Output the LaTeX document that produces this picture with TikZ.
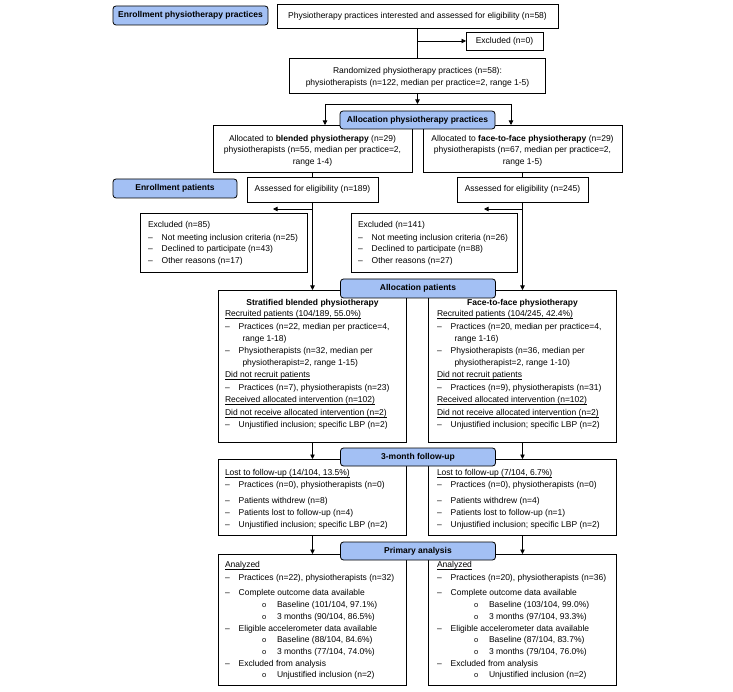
\documentclass[tikz,border=0pt]{standalone}
\usepackage{fontspec}
\setmainfont{Liberation Sans}
\usetikzlibrary{arrows.meta}
\definecolor{hdrblue}{RGB}{163,192,244}
\newcommand{\dashit}{\makebox[13.7pt][l]{–}}
\newcommand{\contit}{\hspace*{17.5pt}}
\newcommand{\obul}{\hspace*{37pt}\makebox[15pt][l]{\fontsize{7.5pt}{11.7pt}\selectfont o}}
\newcommand{\uln}[1]{\underline{\raisebox{0pt}[\height][0.3pt]{#1}}}
\begin{document}
\begin{tikzpicture}[x=1pt,y=-1pt,
  box/.style={draw, line width=0.8pt, inner sep=0pt, outer sep=0pt, fill=white, font=\fontsize{8.5pt}{11.5pt}\selectfont},
  hdr/.style={draw, line width=0.8pt, fill=hdrblue, rounded corners=3pt, inner sep=0pt, outer sep=0pt, font=\fontsize{8.5pt}{10pt}\selectfont\bfseries},
  txt/.style={inner sep=0pt, outer sep=0pt, align=left, anchor=north west, font=\fontsize{8.5pt}{11.7pt}\selectfont},
  ctxt/.style={inner sep=0pt, outer sep=0pt, align=center, anchor=north, font=\fontsize{8.5pt}{11.5pt}\selectfont},
  conn/.style={line width=0.8pt},
  arr/.style={line width=0.8pt, -{Triangle[length=4.5pt,width=4.5pt]}},
]
\fill[white] (0,0) rectangle (733,692);
\useasboundingbox (0,0) rectangle (733,692);

% ---------- boxes ----------
\node[box, minimum width=281pt, minimum height=24pt] (top) at (417.5,16) {Physiotherapy practices interested and assessed for eligibility (n=58)};
\node[box, minimum width=77pt, minimum height=18pt] (excl0) at (504.5,41) {Excluded (n=0)};
\node[box, minimum width=256pt, minimum height=35pt] (rand) at (417.5,75.5) {};
\node[ctxt] (randT) at (417.5,67.8) {Randomized physiotherapy practices (n=58):\\physiotherapists (n=122, median per practice=2, range 1-5)};

\node[box, minimum width=199pt, minimum height=47pt] (allocL) at (312.5,148.5) {};
\node[ctxt] (allocLT) at (312.5,135.1) {Allocated to \textbf{blended physiotherapy} (n=29)\\physiotherapists (n=55, median per practice=2,\\range 1-4)};
\node[box, minimum width=199pt, minimum height=47pt] (allocR) at (522.5,148.5) {};
\node[ctxt] (allocRT) at (522.5,135.1) {Allocated to \textbf{face-to-face physiotherapy} (n=29)\\physiotherapists (n=67, median per practice=2,\\range 1-5)};

\node[box, minimum width=131pt, minimum height=25pt] (assL) at (312.5,189.5) {Assessed for eligibility (n=189)};
\node[box, minimum width=131pt, minimum height=25pt] (assR) at (522.5,189.5) {Assessed for eligibility (n=245)};

\node[box, minimum width=167pt, minimum height=59pt] (exclL) at (223.5,242.5) {};
\node[txt] (exclLT) at (148,221.8) {Excluded (n=85)\\[0.4pt]
\dashit Not meeting inclusion criteria (n=25)\\
\dashit Declined to participate (n=43)\\
\dashit Other reasons (n=17)};
\node[box, minimum width=166pt, minimum height=59pt] (exclR) at (434,242.5) {};
\node[txt] (exclRT) at (358,221.8) {Excluded (n=141)\\[0.4pt]
\dashit Not meeting inclusion criteria (n=26)\\
\dashit Declined to participate (n=88)\\
\dashit Other reasons (n=27)};

% intervention boxes
\node[box, minimum width=188.4pt, minimum height=152pt] (blendL) at (312.5,366) {};
\node[inner sep=0pt, anchor=base, font=\fontsize{8.5pt}{11.7pt}\selectfont\bfseries] (blendLH) at (312.5,306) {Stratified blended physiotherapy};
\node[txt] (blendLT) at (225,310.8) {\uln{Recruited patients (104/189, 55.0\%)}\\[0.8pt]
\dashit Practices (n=22, median per practice=4,\\
\contit range 1-18)\\[0.8pt]
\dashit Physiotherapists (n=32, median per\\
\contit physiotherapist=2, range 1-15)\\[0.8pt]
\uln{Did not recruit patients}\\[0.8pt]
\dashit Practices (n=7), physiotherapists (n=23)\\[0.8pt]
\uln{Received allocated intervention (n=102)}\\[0.8pt]
\uln{Did not receive allocated intervention (n=2)}\\[0.8pt]
\dashit Unjustified inclusion; specific LBP (n=2)};

\node[box, minimum width=188.4pt, minimum height=152pt] (blendR) at (522.5,366) {};
\node[inner sep=0pt, anchor=base, font=\fontsize{8.5pt}{11.7pt}\selectfont\bfseries] (blendRH) at (522.5,306) {Face-to-face physiotherapy};
\node[txt] (blendRT) at (437,310.8) {\uln{Recruited patients (104/245, 42.4\%)}\\[0.8pt]
\dashit Practices (n=20, median per practice=4,\\
\contit range 1-16)\\[0.8pt]
\dashit Physiotherapists (n=36, median per\\
\contit physiotherapist=2, range 1-10)\\[0.8pt]
\uln{Did not recruit patients}\\[0.8pt]
\dashit Practices (n=9), physiotherapists (n=31)\\[0.8pt]
\uln{Received allocated intervention (n=102)}\\[0.8pt]
\uln{Did not receive allocated intervention (n=2)}\\[0.8pt]
\dashit Unjustified inclusion; specific LBP (n=2)};

% follow-up boxes
\node[box, minimum width=188.4pt, minimum height=76pt] (fuL) at (312.5,497) {};
\node[txt] (fuLT) at (225,469.8) {\uln{Lost to follow-up (14/104, 13.5\%)}\\
\dashit Practices (n=0), physiotherapists (n=0)\\[4.3pt]
\dashit Patients withdrew (n=8)\\[0.3pt]
\dashit Patients lost to follow-up (n=4)\\[0.3pt]
\dashit Unjustified inclusion; specific LBP (n=2)};
\node[box, minimum width=188.4pt, minimum height=76pt] (fuR) at (522.5,497) {};
\node[txt] (fuRT) at (437,469.8) {\uln{Lost to follow-up (7/104, 6.7\%)}\\
\dashit Practices (n=0), physiotherapists (n=0)\\[4.3pt]
\dashit Patients withdrew (n=4)\\[0.3pt]
\dashit Patients lost to follow-up (n=1)\\[0.3pt]
\dashit Unjustified inclusion; specific LBP (n=2)};

% primary analysis boxes
\node[box, minimum width=188.4pt, minimum height=131pt] (paL) at (312.5,619.5) {};
\node[txt] (paLT) at (225,561.8) {\uln{Analyzed}\\[1.3pt]
\dashit Practices (n=22), physiotherapists (n=32)\\[3.3pt]
\dashit Complete outcome data available\\
\obul Baseline (101/104, 97.1\%)\\
\obul 3 months (90/104, 86.5\%)\\
\dashit Eligible accelerometer data available\\
\obul Baseline (88/104, 84.6\%)\\
\obul 3 months (77/104, 74.0\%)\\
\dashit Excluded from analysis\\
\obul Unjustified inclusion (n=2)};
\node[box, minimum width=188.4pt, minimum height=131pt] (paR) at (522.5,619.5) {};
\node[txt] (paRT) at (437,561.8) {\uln{Analyzed}\\[1.3pt]
\dashit Practices (n=20), physiotherapists (n=36)\\[3.3pt]
\dashit Complete outcome data available\\
\obul Baseline (103/104, 99.0\%)\\
\obul 3 months (97/104, 93.3\%)\\
\dashit Eligible accelerometer data available\\
\obul Baseline (87/104, 83.7\%)\\
\obul 3 months (79/104, 76.0\%)\\
\dashit Excluded from analysis\\
\obul Unjustified inclusion (n=2)};

% ---------- connectors ----------
\draw[conn] (top.south) -- (rand.north);
\draw[arr] (top.south |- excl0.west) -- (excl0.west);
\coordinate (barL) at (325,104);
\coordinate (barR) at (511,104);
\draw[arr] (rand.south) -- (rand.south |- barL);
\draw[conn] (barL) -- (barR);
\draw[arr] (barL) -- (barL |- allocL.north);
\draw[arr] (barR) -- (barR |- allocR.north);
\draw[conn] (allocL.south) -- (assL.north);
\draw[conn] (allocR.south) -- (assR.north);
\draw[arr] (assL.south) -- (blendL.north);
\draw[arr] (assR.south) -- (blendR.north);
\coordinate (brL) at (312.5,209);
\coordinate (brLe) at (273,209);
\coordinate (brR) at (522.5,209);
\coordinate (brRe) at (484,209);
\draw[arr] (brL) -- (brLe);
\draw[arr] (brR) -- (brRe);
\draw[arr] (blendL.south) -- (fuL.north);
\draw[arr] (blendR.south) -- (fuR.north);
\draw[arr] (fuL.south) -- (paL.north);
\draw[arr] (fuR.south) -- (paR.north);

% ---------- headers ----------
\node[hdr, minimum width=155pt, minimum height=19pt] (hEnrPr) at (190.5,15.5) {Enrollment physiotherapy practices};
\node[hdr, minimum width=155pt, minimum height=18pt] (hAllPr) at (417.5,120) {Allocation physiotherapy practices};
\node[hdr, minimum width=124pt, minimum height=19pt] (hEnrPat) at (175,188.5) {Enrollment patients};
\node[hdr, minimum width=155pt, minimum height=19pt] (hAllPat) at (418,288.5) {Allocation patients};
\node[hdr, minimum width=155pt, minimum height=18pt] (hFU) at (418,457) {3-month follow-up};
\node[hdr, minimum width=155pt, minimum height=18pt] (hPA) at (418,551) {Primary analysis};
\end{tikzpicture}
\end{document}
